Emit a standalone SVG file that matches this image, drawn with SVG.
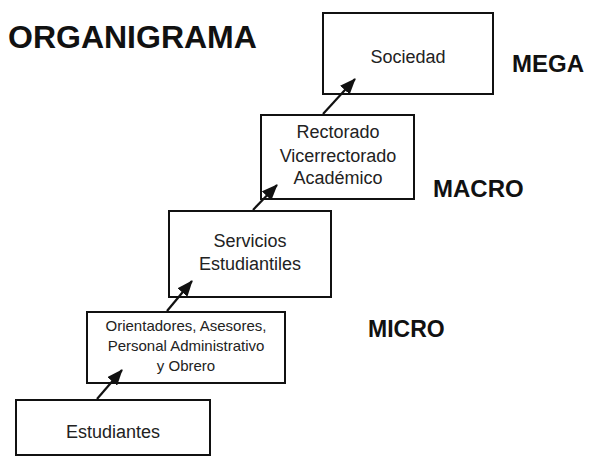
<svg xmlns="http://www.w3.org/2000/svg" width="596" height="456" viewBox="0 0 596 456">
<style>
.box{fill:#fff;stroke:#111;stroke-width:2}
.t{font-family:"Liberation Sans",Arial,sans-serif;font-size:18px;fill:#222;text-anchor:middle}
.s{font-size:15px}
.lvl{font-family:"Liberation Sans",Arial,sans-serif;font-weight:bold;fill:#111}
.arr{stroke:#111;stroke-width:2.2;fill:none;marker-end:url(#ah)}
</style>
<defs>
<marker id="ah" markerUnits="userSpaceOnUse" markerWidth="16" markerHeight="13" refX="15" refY="6.5" orient="auto" viewBox="0 0 16 13">
<path d="M0,0 L16,6.5 L0,13 z" fill="#111"/>
</marker>
</defs>
<rect width="596" height="456" fill="#fff"/>
<text class="lvl" x="8" y="48" font-size="32">ORGANIGRAMA</text>
<text class="lvl" x="512" y="72" font-size="24">MEGA</text>
<text class="lvl" x="433" y="197" font-size="24">MACRO</text>
<text class="lvl" x="368" y="337" font-size="23">MICRO</text>
<g id="sociedad">
<rect class="box" x="323" y="13" width="170" height="81"/>
<text class="t" x="408" y="63">Sociedad</text>
</g>
<g id="rectorado">
<rect class="box" x="261" y="115" width="153" height="84"/>
<text class="t" x="338" y="138">Rectorado</text>
<text class="t" x="338" y="162">Vicerrectorado</text>
<text class="t" x="338" y="184">Académico</text>
</g>
<g id="servicios">
<rect class="box" x="169" y="211" width="162" height="86"/>
<text class="t" x="250" y="247">Servicios</text>
<text class="t" x="250" y="270">Estudiantiles</text>
</g>
<g id="orientadores">
<rect class="box" x="87" y="312" width="198" height="71"/>
<text class="t s" x="186" y="331">Orientadores, Asesores,</text>
<text class="t s" x="186" y="351">Personal Administrativo</text>
<text class="t s" x="186" y="371">y Obrero</text>
</g>
<g id="estudiantes">
<rect class="box" x="16" y="400" width="194" height="55"/>
<text class="t" x="113" y="438">Estudiantes</text>
</g>
<g id="connectors">
<line class="arr" x1="97" y1="399" x2="122" y2="370"/>
<line class="arr" x1="167" y1="311" x2="192" y2="281"/>
<line class="arr" x1="253" y1="210" x2="277" y2="185"/>
<line class="arr" x1="323" y1="114" x2="355" y2="79"/>
</g>
</svg>
